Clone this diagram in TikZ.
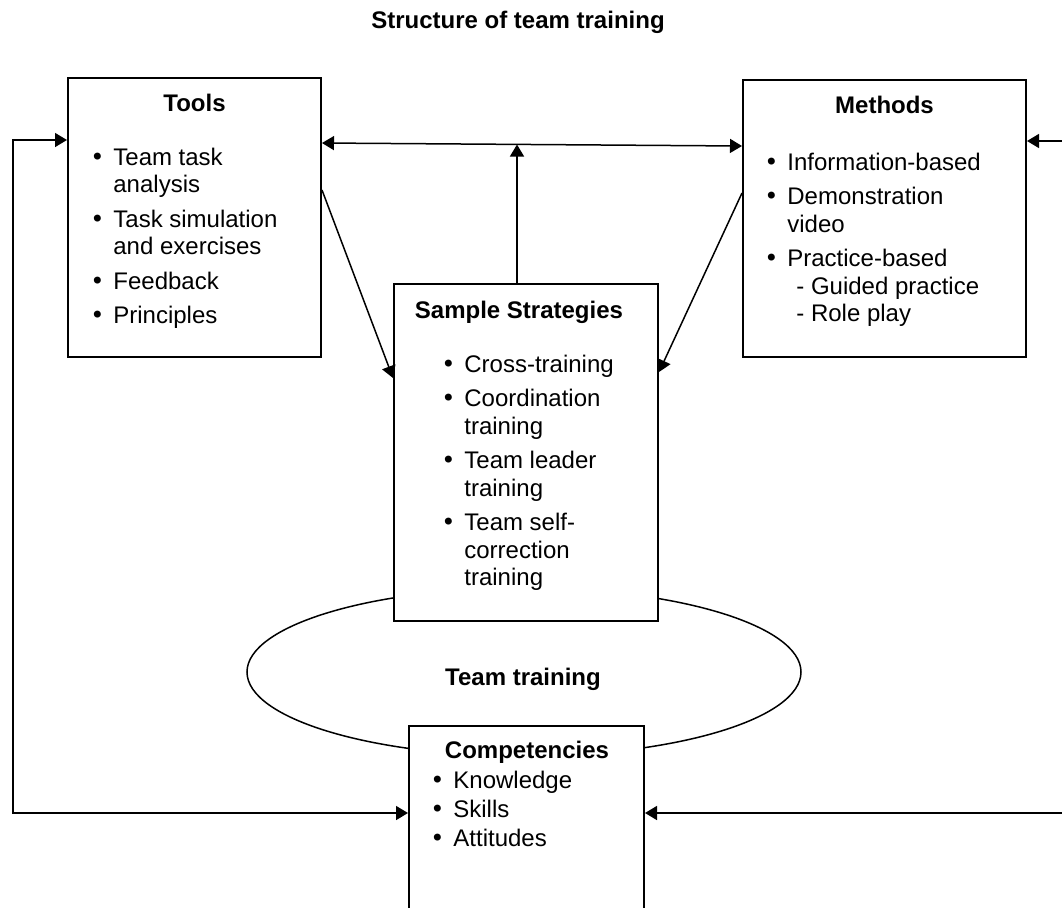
\documentclass[tikz,border=0pt]{standalone}
\usepackage{fontspec}
\setmainfont{Liberation Sans}
\newfontfamily\bulfont{DejaVu Sans}
\usetikzlibrary{shapes.geometric, arrows.meta}
\newcommand{\bul}{\makebox[11.5pt][l]{\bulfont\symbol{"2022}}}

\begin{document}
\begin{tikzpicture}[
    x=0.5pt, y=-0.5pt,
    font=\fontsize{12pt}{13.75pt}\selectfont,
    box/.style n args={2}{rectangle, draw, line width=1pt, fill=white, inner sep=0pt, minimum width=#1, minimum height=#2},
    heading/.style={font=\fontsize{12pt}{13.75pt}\selectfont\bfseries, inner sep=0pt, anchor=base},
    list/.style={inner sep=0pt, anchor=base west},
    arrow/.style={-{Triangle[length=6pt, width=7pt]}, line width=0.75pt},
    both/.style={{Triangle[length=6pt, width=7pt]}-{Triangle[length=6pt, width=7pt]}, line width=0.75pt}
]
\useasboundingbox (0,0) rectangle (1062,907);
\clip (0,0) rectangle (1062,907);

% Title
\node[heading] (title) at (518,28) {Structure of team training};

% Team training ring
\node[ellipse, draw, line width=0.75pt, minimum width=277pt, minimum height=84pt, inner sep=0pt] (training) at (524,672) {};
\node[heading] (traininglabel) at (523,685) {Team training};

% Boxes
\node[box={126.5pt}{139.5pt}] (tools) at (194.5,217.5) {};
\node[box={141.5pt}{138.5pt}] (methods) at (884.5,218.5) {};
\node[box={132pt}{168.5pt}] (sample) at (526,452.5) {};
\node[box={117.5pt}{107pt}] (comp) at (526.5,833) {};

% Tools
\node[heading] (toolstitle) at (194.5,111) {Tools};
\node[list] (toolslist) at (90,165) {\begin{tabular}[t]{@{}l@{}l@{}}
\bul & Team task\\
     & analysis\\[3.5pt]
\bul & Task simulation\\
     & and exercises\\[3.5pt]
\bul & Feedback\\[3.5pt]
\bul & Principles
\end{tabular}};

% Methods
\node[heading] (methodstitle) at (884.5,113) {Methods};
\node[list] (methodslist) at (764,170) {\begin{tabular}[t]{@{}l@{}l@{}}
\bul & Information-based\\[3.5pt]
\bul & Demonstration\\
     & video\\[3.5pt]
\bul & Practice-based\\
     & \hspace{4.5pt}- Guided practice\\
     & \hspace{4.5pt}- Role play
\end{tabular}};

% Sample Strategies
\node[heading] (sampletitle) at (519,318) {Sample Strategies};
\node[list] (samplelist) at (441,372) {\begin{tabular}[t]{@{}l@{}l@{}}
\bul & Cross-training\\[3.5pt]
\bul & Coordination\\
     & training\\[3.5pt]
\bul & Team leader\\
     & training\\[3.5pt]
\bul & Team self-\\
     & correction\\
     & training
\end{tabular}};

% Competencies
\node[heading] (comptitle) at (527,758) {Competencies};
\node[list] (complist) at (430,788) {\begin{tabular}[t]{@{}l@{}l@{}}
\bul & Knowledge\\[0.75pt]
\bul & Skills\\[0.75pt]
\bul & Attitudes
\end{tabular}};

% Arrows
\coordinate (lrail) at (13,0);
\coordinate (rrail) at (1090,0);
\draw[both] (tools.east |- 0,143) -- (methods.west |- 0,146);
\draw[arrow] ([xshift=-4.5pt]sample.north) -- ([xshift=-4.5pt]sample.north |- 0,144.5);
\draw[arrow] (tools.east |- 0,190) -- (sample.west |- 0,378);
\draw[arrow] (methods.west |- 0,193) -- (sample.east |- 0,372);
\draw[both] (comp.west |- 0,813) -- (lrail |- 0,813) -- (lrail |- 0,140) -- (tools.west |- 0,140);
\draw[both] (methods.east |- 0,141) -- (rrail |- 0,141) -- (rrail |- 0,813) -- (comp.east |- 0,813);

\end{tikzpicture}
\end{document}
